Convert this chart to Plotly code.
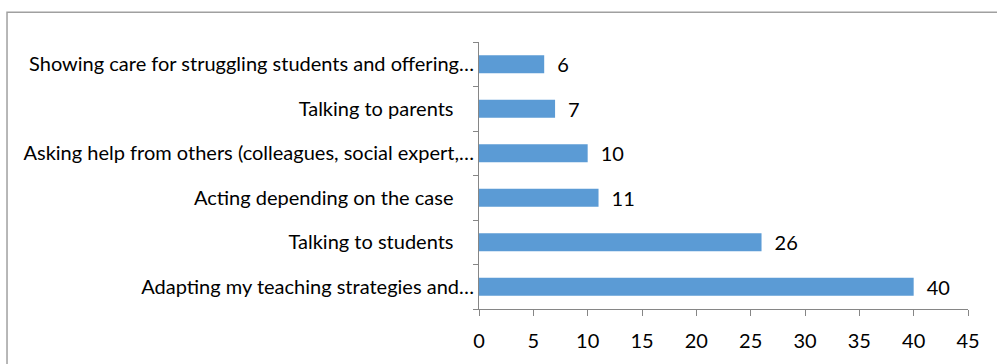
import plotly.graph_objects as go

# Responses (bottom to top in the chart)
pad = "\u00a0" * 4
categories = [
    "Adapting my teaching strategies and…",
    "Talking to students" + pad,
    "Acting depending on the case" + pad,
    "Asking help from others (colleagues, social expert,…",
    "Talking to parents" + pad,
    "Showing care for struggling students and offering…",
]
counts = [40, 26, 11, 10, 7, 6]
x_ticks = [0, 5, 10, 15, 20, 25, 30, 35, 40, 45]

font_family = "Lato, Carlito, 'Open Sans', sans-serif"
font_size = 20
axis_grey = "#868686"

fig = go.Figure(
    go.Bar(
        x=counts,
        y=categories,
        orientation="h",
        marker=dict(color="#5B9BD5", line=dict(width=0)),
        text=[str(v) for v in counts],
        texttemplate="\u2002%{text}",
        textposition="outside",
        constraintext="none",
        textfont=dict(family=font_family, size=font_size, color="#000000"),
        cliponaxis=False,
        width=0.4,
    )
)

fig.update_layout(
    width=997,
    height=364,
    margin=dict(l=479, r=29, t=42, b=52),
    paper_bgcolor="white",
    plot_bgcolor="white",
    showlegend=False,
    font=dict(family=font_family, size=font_size, color="#000000"),
    xaxis=dict(
        range=[0, 45],
        tickvals=x_ticks,
        ticktext=[str(t) for t in x_ticks],
        showgrid=False,
        zeroline=False,
        showline=True,
        linecolor=axis_grey,
        linewidth=1,
        ticks="outside",
        ticklen=6,
        tickcolor=axis_grey,
        ticklabelstandoff=8,
        tickfont=dict(family=font_family, size=font_size, color="#000000"),
        fixedrange=True,
    ),
    yaxis=dict(
        categoryorder="array",
        categoryarray=categories,
        showgrid=False,
        zeroline=False,
        showline=True,
        linecolor=axis_grey,
        linewidth=1,
        ticks="outside",
        ticklen=5,
        tickcolor=axis_grey,
        tickson="boundaries",
        ticklabelstandoff=0,
        tickfont=dict(family=font_family, size=font_size, color="#000000"),
        fixedrange=True,
    ),
    shapes=[
        # chart-area frame, open to the right and bottom edges of the page
        dict(
            type="rect",
            xref="paper",
            yref="paper",
            x0=-0.9652,
            x1=1.2,
            y0=-0.4,
            y1=1.1111,
            line=dict(color="#A0A0A0", width=1.5),
            fillcolor="rgba(0,0,0,0)",
            layer="below",
        )
    ],
)

fig.write_html("out.html")
